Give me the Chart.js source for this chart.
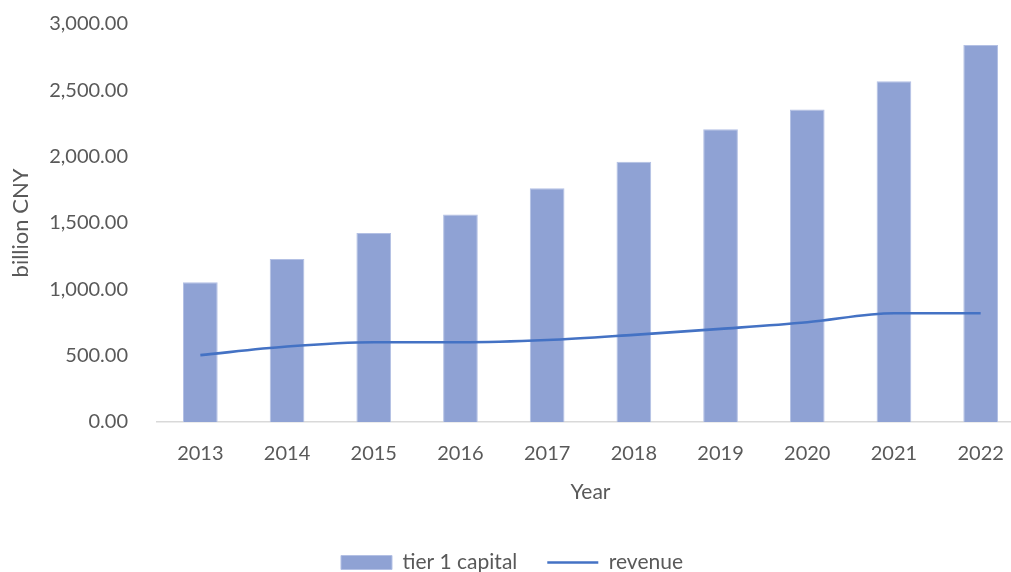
<!DOCTYPE html>
<html>
<head>
<meta charset="utf-8">
<script src="https://cdn.jsdelivr.net/npm/chart.js@4/dist/chart.umd.min.js"></script>
<style>
  html, body { margin: 0; padding: 0; background: #fff; overflow: hidden; }
  #wrap { position: absolute; left: 0; top: -17px; width: 1024px; height: 600px; }
</style>
</head>
<body>
<div id="wrap"><canvas id="myChart"></canvas></div>
<script>
let years = ['2013', '2014', '2015', '2016', '2017', '2018', '2019', '2020', '2021', '2022'];
let tier1Capital = [1053, 1228, 1424, 1564, 1762, 1962, 2206, 2356, 2569, 2842];
let revenue = [504, 569, 601, 601, 618, 657, 702, 752, 820, 820];
let yTicks = [0, 500, 1000, 1500, 2000, 2500, 3000];

const fontName = 'Lato, "Open Sans", sans-serif';
const grey = '#595959';

var myChart = new Chart(document.getElementById('myChart'), {
    type: 'bar',
    data: {
        labels: years,
        datasets: [{
            type: 'bar',
            label: 'tier 1 capital',
            data: tier1Capital,
            backgroundColor: '#8FA2D4',
            borderColor: '#B3C0E4',
            borderWidth: 1,
            barPercentage: 0.4,
            categoryPercentage: 1,
            pointStyle: 'rect',
            order: 2
        }, {
            type: 'line',
            label: 'revenue',
            data: revenue,
            borderColor: '#4472C4',
            backgroundColor: '#4472C4',
            borderWidth: 2.6,
            pointRadius: 0,
            pointStyle: 'line',
            cubicInterpolationMode: 'monotone',
            order: 1
        }]
    },
    options: {
        responsive: true,
        maintainAspectRatio: false,
        animation: false,
        layout: { padding: { top: 6, right: 0, left: 0, bottom: 0 } },
        plugins: {
            tooltip: { enabled: false },
            legend: {
                position: 'bottom',
                labels: {
                    usePointStyle: true,
                    pointStyleWidth: 51,
                    boxHeight: 14,
                    padding: 30,
                    color: grey,
                    font: { family: fontName, size: 21 },
                    sort: (a, b) => a.datasetIndex - b.datasetIndex
                }
            }
        },
        scales: {
            x: {
                offset: true,
                grid: { display: false, drawTicks: false },
                border: { display: true, color: '#D9D9D9', width: 1.5 },
                ticks: { padding: 20, color: grey, font: { family: fontName, size: 20 } },
                title: {
                    display: true, text: 'Year', color: grey,
                    font: { family: fontName, size: 21 },
                    padding: { top: 0, bottom: 17 }
                },
                afterFit: s => { s.height = 100 }
            },
            y: {
                min: 0,
                max: 3000,
                afterBuildTicks: s => { s.ticks = yTicks.map(v => ({ value: v })) },
                grid: { display: false, drawTicks: false },
                border: { display: false },
                ticks: {
                    padding: 29,
                    color: grey,
                    font: { family: fontName, size: 20 },
                    callback: v => v.toLocaleString('en-US', { minimumFractionDigits: 2, maximumFractionDigits: 2 })
                },
                title: {
                    display: true, text: 'billion CNY', color: grey,
                    font: { family: fontName, size: 22 },
                    padding: { top: 8, bottom: 0 }
                },
                afterFit: s => { s.width = 157 }
            }
        }
    }
});
</script>
</body>
</html>
